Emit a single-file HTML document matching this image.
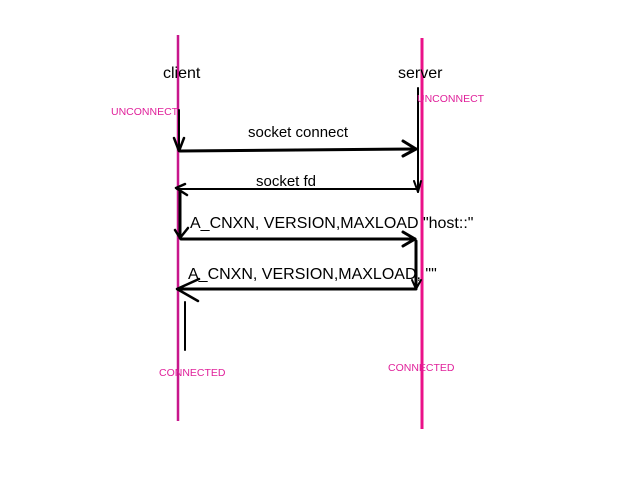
<!DOCTYPE html>
<html><head><meta charset="utf-8"><style>
html,body{margin:0;padding:0;background:#fff;width:640px;height:480px;overflow:hidden}
svg text{font-family:"Liberation Sans",sans-serif}
</style></head><body>
<svg width="640" height="480" viewBox="0 0 640 480" xmlns="http://www.w3.org/2000/svg">
<line x1="178" y1="35" x2="178" y2="421" stroke="#c8168c" stroke-width="2.5"/>
<line x1="422" y1="38" x2="422" y2="429" stroke="#ea1188" stroke-width="3"/>
<g stroke="#000" fill="none" stroke-linecap="round" stroke-linejoin="round">
<line x1="179" y1="110" x2="179" y2="150" stroke-width="2"/>
<polyline points="174,138 179,151 184,138" stroke-width="2.5"/>
<line x1="180" y1="151" x2="416" y2="149" stroke-width="3"/>
<polyline points="403,141 416,149 403,156" stroke-width="3"/>
<line x1="418" y1="88" x2="418" y2="192" stroke-width="2"/>
<polyline points="414,181 418,192 421,181" stroke-width="2"/>
<line x1="418" y1="189" x2="177" y2="189" stroke-width="2"/>
<polyline points="185,184 176,188 187,195" stroke-width="2.5"/>
<line x1="180" y1="190" x2="180" y2="238" stroke-width="3"/>
<polyline points="175,230 180,238 188,228" stroke-width="2.5"/>
<line x1="181" y1="239" x2="415" y2="239" stroke-width="3"/>
<polyline points="403,232 415,239 403,246" stroke-width="3"/>
<line x1="416" y1="241" x2="416" y2="288" stroke-width="3"/>
<polyline points="412,280 416,289 421,280" stroke-width="2"/>
<line x1="416" y1="289" x2="178" y2="289" stroke-width="3"/>
<polyline points="199,279 177,289 198,301" stroke-width="2.5"/>
<line x1="185" y1="302" x2="185" y2="350" stroke-width="2"/>
</g>
<text x="163" y="78" font-size="16">client</text>
<text x="398" y="78" font-size="16">server</text>
<text x="111" y="115" font-size="10.5" fill="#e0209a">UNCONNECT</text>
<text x="417" y="102" font-size="10.5" fill="#e0209a">UNCONNECT</text>
<text x="248" y="137" font-size="15">socket connect</text>
<text x="256" y="186" font-size="15">socket fd</text>
<text x="190" y="228" font-size="16">A_CNXN, VERSION,MAXLOAD "host::"</text>
<text x="188" y="279" font-size="16">A_CNXN, VERSION,MAXLOAD, ""</text>
<text x="159" y="376" font-size="10.5" fill="#e0209a">CONNECTED</text>
<text x="388" y="371" font-size="10.5" fill="#e0209a">CONNECTED</text>
</svg>
</body></html>
